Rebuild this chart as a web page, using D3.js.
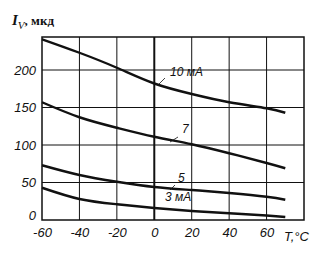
<!DOCTYPE html>
<html><head><meta charset="utf-8">
<script src="https://cdn.jsdelivr.net/npm/d3@7"></script>
<style>body{margin:0;background:#fff}svg{display:block}</style>
</head><body>
<script>
const temps = [-60, -40, -20, 0, 20, 40, 60, 70];
const s10 = [241, 223, 203, 182, 168, 157, 149, 143];
const s7 = [157, 137, 123, 111, 101, 89, 76, 69];
const s5 = [73, 60, 51, 44, 40, 36, 31, 27];
const s3 = [43, 28, 21, 16, 12, 9, 6, 4];
const xTicks = [-60, -40, -20, 0, 20, 40, 60];
const yTicks = [0, 50, 100, 150, 200];
const seriesNames = ["10 мА", "7", "5", "3 мА"];

const W = 318, H = 257;
const svg = d3.select("body").append("svg").attr("width", W).attr("height", H);
const x = d3.scaleLinear().domain([-60, 80]).range([42, 304]);
const y = d3.scaleLinear().domain([0, 244]).range([220, 37]);
const ink = "#111";

// grid
const gx = [-40, -20, 0, 20, 40, 60];
svg.selectAll(".vg").data(gx).enter().append("line")
  .attr("x1", d => x(d)).attr("x2", d => x(d)).attr("y1", y.range()[1]).attr("y2", y.range()[0])
  .attr("stroke", ink).attr("stroke-width", d => d === 0 ? 2 : 1);
svg.selectAll(".hg").data([50, 100, 150, 200]).enter().append("line")
  .attr("x1", x.range()[0]).attr("x2", x.range()[1]).attr("y1", d => y(d)).attr("y2", d => y(d))
  .attr("stroke", ink).attr("stroke-width", 1);
svg.append("rect").attr("x", x.range()[0]).attr("y", y.range()[1])
  .attr("width", x.range()[1] - x.range()[0]).attr("height", y.range()[0] - y.range()[1])
  .attr("fill", "none").attr("stroke", ink).attr("stroke-width", 1.5);

// axes labels
const tf = "'Liberation Sans', Arial, sans-serif";
const yAxis = d3.axisLeft(y).tickValues(yTicks).tickSize(0).tickPadding(6);
const ga = svg.append("g").attr("transform", `translate(${x.range()[0]},0)`).call(yAxis);
ga.select(".domain").remove();
ga.selectAll("text").attr("font-family", tf).attr("font-style", "italic").attr("font-size", 13).attr("fill", ink);
ga.selectAll(".tick").filter(d => d === 0).select("text").attr("y", -5);

const xAxis = d3.axisBottom(x).tickValues(xTicks).tickSize(0).tickPadding(8)
  .tickFormat(d => d < 0 ? "-" + Math.abs(d) : d);
const gb = svg.append("g").attr("transform", `translate(0,${y.range()[0]})`).call(xAxis);
gb.select(".domain").remove();
gb.selectAll("text").attr("font-family", tf).attr("font-style", "italic").attr("font-size", 13).attr("fill", ink);

svg.append("text").attr("x", 284).attr("y", 241).attr("font-family", tf)
  .attr("font-style", "italic").attr("font-size", 13).attr("fill", ink).text("T,°C");

// y title
const t = svg.append("text").attr("x", 12).attr("y", 25).attr("font-family", "'Liberation Serif', 'DejaVu Serif', serif")
  .attr("font-size", 15).attr("fill", ink);
t.append("tspan").attr("font-style", "italic").attr("font-weight", "bold").text("I");
t.append("tspan").attr("font-style", "italic").attr("font-size", 11).attr("dy", 4).text("V");
t.append("tspan").attr("dy", -4).attr("font-weight", "bold").attr("font-size", 13).text(", мкд");

// curves
const line = d3.line().x((d, i) => x(temps[i])).y(d => y(d)).curve(d3.curveNatural);
[s10, s7, s5, s3].forEach(s => {
  svg.append("path").attr("d", line(s)).attr("fill", "none").attr("stroke", ink).attr("stroke-width", 2.4);
});

// series labels with leaders
const labels = [
  {name: seriesNames[0], lx: 170, ly: 76, l: [165, 78, 159, 84]},
  {name: seriesNames[1], lx: 182, ly: 133, l: [178, 137, 170, 142]},
  {name: seriesNames[2], lx: 178, ly: 182, l: [175, 185, 170, 190]},
  {name: seriesNames[3], lx: 165, ly: 201, l: null}
];
labels.forEach(o => {
  svg.append("text").attr("x", o.lx).attr("y", o.ly).attr("font-family", tf).attr("font-style", "italic")
    .attr("font-size", 12).attr("fill", ink).text(o.name);
  if (o.l) svg.append("line").attr("x1", o.l[0]).attr("y1", o.l[1]).attr("x2", o.l[2]).attr("y2", o.l[3])
    .attr("stroke", ink).attr("stroke-width", 0.8);
});
</script>
</body></html>
